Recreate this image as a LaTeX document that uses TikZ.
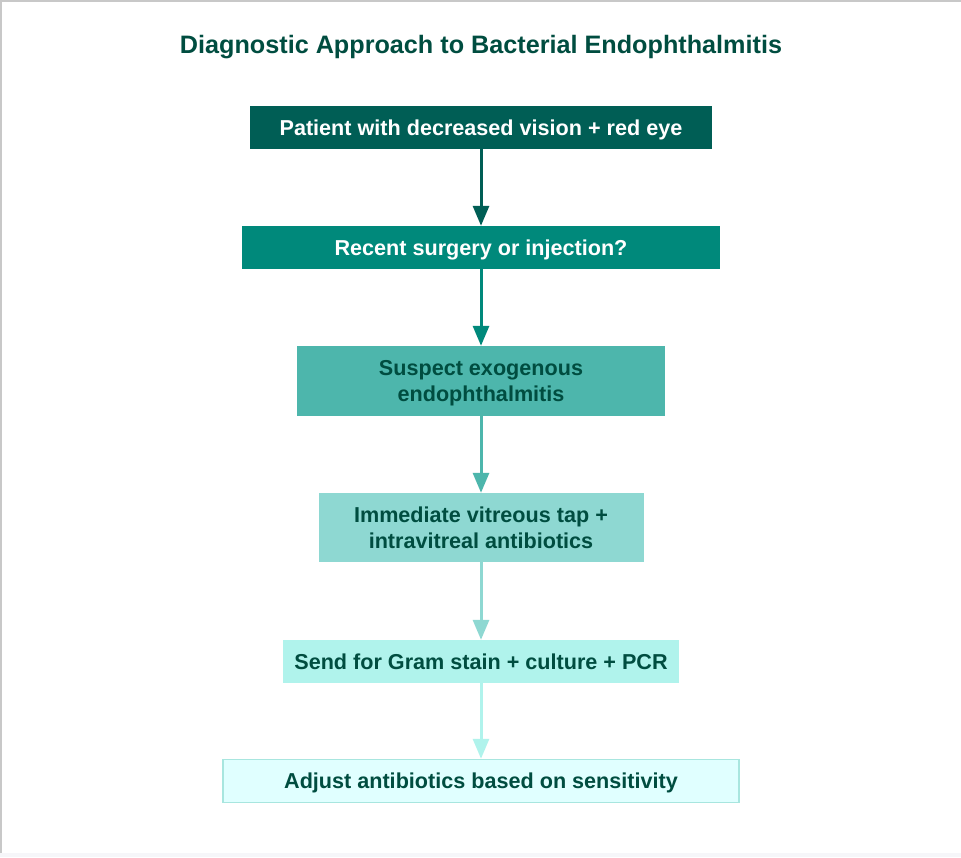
\documentclass[tikz,border=0pt]{standalone}
\usepackage{fontspec}
\setmainfont{Liberation Sans}
\usetikzlibrary{arrows.meta}
\definecolor{cA}{HTML}{005E55}
\definecolor{cB}{HTML}{00897B}
\definecolor{cC}{HTML}{4DB6AC}
\definecolor{cD}{HTML}{8ED8D2}
\definecolor{cE}{HTML}{B0F3EC}
\definecolor{cF}{HTML}{E0FFFF}
\definecolor{cFb}{HTML}{A8E6DF}
\definecolor{txtdark}{HTML}{004D40}
\definecolor{frame}{HTML}{C8C8C8}
\definecolor{strip}{HTML}{F6F6F9}
\tikzset{
  stepbox/.style={rectangle, inner sep=0pt, align=center, text depth=0pt, font=\fontsize{21.6}{26}\selectfont\bfseries},
  flow/.style={line width=3pt, -{Triangle[width=16pt,length=20pt]}},
}
\begin{document}
\begin{tikzpicture}[x=1pt,y=-1pt]
\useasboundingbox (0,0) rectangle (961,857);
\fill[white] (0,0) rectangle (961,857);
\fill[strip] (0,853) rectangle (961,857);
\draw[frame, line width=1.5pt] (0.75,853) -- (0.75,0.75) -- (961,0.75);
\node[font=\fontsize{25.2}{30}\selectfont\bfseries, text=txtdark, text depth=0pt] (title) at (481,44) {Diagnostic Approach to Bacterial Endophthalmitis};
\node[stepbox, fill=cA, text=white, minimum width=462pt, minimum height=43pt] (b1) at (481,127.5) {Patient with decreased vision + red eye};
\node[stepbox, fill=cB, text=white, minimum width=478pt, minimum height=43pt] (b2) at (481,247.5) {Recent surgery or injection?};
\node[stepbox, fill=cC, text=txtdark, minimum width=368pt, minimum height=70pt] (b3) at (481,381) {Suspect exogenous\\endophthalmitis};
\node[stepbox, fill=cD, text=txtdark, minimum width=325pt, minimum height=69pt] (b4) at (481,527.5) {Immediate vitreous tap +\\intravitreal antibiotics};
\node[stepbox, fill=cE, text=txtdark, minimum width=396pt, minimum height=43pt] (b5) at (481,661.5) {Send for Gram stain + culture + PCR};
\node[stepbox, fill=cF, draw=cFb, line width=1.5pt, text=txtdark, minimum width=516pt, minimum height=43pt] (b6) at (481,781) {Adjust antibiotics based on sensitivity};
\draw[flow, cA] (b1.south) -- (b2.north);
\draw[flow, cB] (b2.south) -- (b3.north);
\draw[flow, cC] (b3.south) -- (b4.north);
\draw[flow, cD] (b4.south) -- (b5.north);
\draw[flow, cE] (b5.south) -- (b6.north);
\end{tikzpicture}
\end{document}
